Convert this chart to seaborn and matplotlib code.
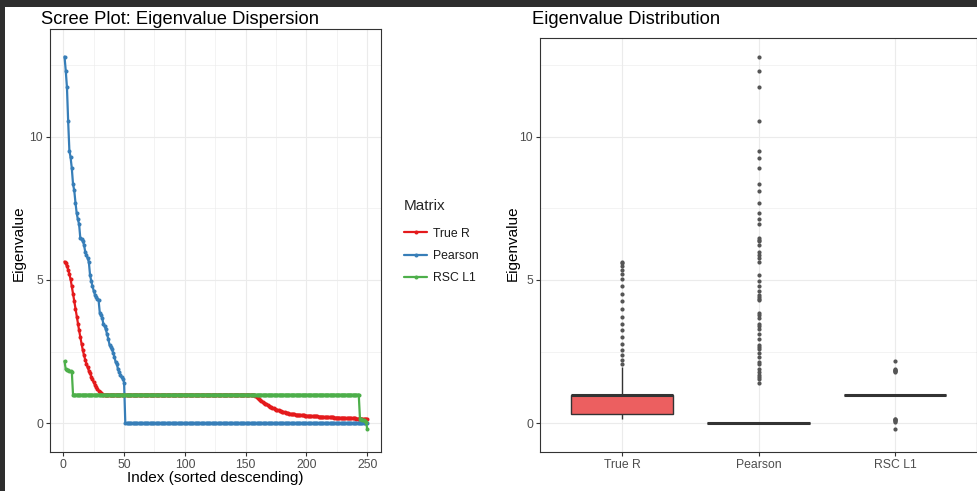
import numpy as np
import pandas as pd
import matplotlib
matplotlib.use("Agg")
import matplotlib.pyplot as plt
from matplotlib.lines import Line2D
from matplotlib.patches import Rectangle
from matplotlib.ticker import FixedLocator
import seaborn as sns

# ---------------- data ----------------
matrices = ["True R", "Pearson", "RSC L1"]

true_r_head = [5.64, 5.58, 5.48, 5.36, 5.20, 5.02, 4.78, 4.52, 4.26, 3.99,
               3.72, 3.48, 3.24, 3.00, 2.78, 2.56, 2.38, 2.22, 2.08, 1.95,
               1.84, 1.74, 1.63, 1.53, 1.43, 1.35, 1.27, 1.20, 1.14, 1.09,
               1.05, 1.02]
true_r_flat = [1.0] * 125
true_r_tail = [0.97, 0.93, 0.90, 0.86, 0.82, 0.79, 0.75, 0.72, 0.69, 0.66,
               0.63, 0.61, 0.58, 0.56, 0.54, 0.52, 0.50,
               0.48, 0.46, 0.45, 0.43, 0.42, 0.40, 0.39, 0.38, 0.37, 0.36,
               0.35, 0.34, 0.33, 0.32, 0.315, 0.31, 0.305, 0.30, 0.295, 0.29,
               0.285, 0.28, 0.28, 0.275, 0.27, 0.27,
               0.265, 0.26, 0.26, 0.255, 0.25, 0.25, 0.245, 0.24, 0.24, 0.235,
               0.23, 0.23, 0.225, 0.225, 0.22, 0.22, 0.215, 0.215, 0.21, 0.21,
               0.205, 0.205, 0.20, 0.20, 0.20, 0.195, 0.195, 0.19, 0.19, 0.19,
               0.185, 0.185, 0.18, 0.18, 0.18, 0.175, 0.175, 0.17, 0.17, 0.17,
               0.165, 0.165, 0.16, 0.16, 0.16, 0.155, 0.155, 0.15, 0.15, 0.14]

pearson_nonzero = [12.79, 12.30, 11.72, 10.53, 9.51, 9.27, 8.89, 8.34, 8.12, 7.70,
                   7.33, 7.11, 6.94, 6.45, 6.41, 6.36, 6.23, 5.99, 5.88, 5.75,
                   5.63, 5.17, 4.96, 4.78, 4.62, 4.49, 4.40, 4.34, 4.30, 3.86,
                   3.77, 3.68, 3.45, 3.38, 3.28, 3.10, 2.95, 2.74, 2.67, 2.58,
                   2.45, 2.33, 2.14, 2.08, 1.88, 1.79, 1.68, 1.60, 1.56, 1.42]
pearson_zero = [0.0] * 200

rsc_head = [2.17, 1.88, 1.86, 1.85, 1.83, 1.81, 1.80]
rsc_flat = [1.0] * 236
rsc_tail = [0.16, 0.14, 0.12, 0.10, 0.08, 0.05, -0.21]

true_r = true_r_head + true_r_flat + true_r_tail
pearson = pearson_nonzero + pearson_zero
rsc_l1 = rsc_head + rsc_flat + rsc_tail
index = list(range(1, len(true_r) + 1))

x_ticks = [0, 50, 100, 150, 200, 250]
x_minor = [25, 75, 125, 175, 225]
y_ticks = [0, 5, 10]
y_minor = [2.5, 7.5, 12.5]

colors = ["#E41A1C", "#377EB8", "#4DAF4A"]
box_fill = ["#EC5F60", "#73A5CD", "#82C780"]

df = pd.DataFrame({
    "Index": index * 3,
    "Eigenvalue": true_r + pearson + rsc_l1,
    "Matrix": [matrices[0]] * len(true_r) + [matrices[1]] * len(pearson) + [matrices[2]] * len(rsc_l1),
})

# ---------------- figure ----------------
sns.set_theme(style="white")
plt.rcParams["font.family"] = ["Liberation Sans", "DejaVu Sans"]

W, H = 978, 491
fig = plt.figure(figsize=(W / 100, H / 100), dpi=100)
fig.patch.set_facecolor("white")

def fx(px):
    return px / W

def fy(py):
    return 1 - py / H

ax1 = fig.add_axes([fx(50), fy(452), (381 - 50) / W, (452 - 29) / H])
ax2 = fig.add_axes([fx(540), fy(452), (977 - 540) / W, (452 - 38) / H])

pal = dict(zip(matrices, colors))
sns.lineplot(data=df, x="Index", y="Eigenvalue", hue="Matrix", hue_order=matrices,
             palette=pal, marker="o", markersize=2.9, markeredgewidth=0,
             linewidth=1.6, estimator=None, sort=False, legend=False, ax=ax1)

sns.boxplot(data=df, x="Matrix", y="Eigenvalue", hue="Matrix", order=matrices,
            hue_order=matrices, palette=dict(zip(matrices, box_fill)), saturation=1,
            width=0.75, linewidth=1.0, linecolor="#333333", showcaps=False,
            legend=False,
            flierprops=dict(marker="o", markersize=3.0, markerfacecolor="#555555",
                            markeredgecolor="none"),
            medianprops=dict(linewidth=2.2, color="#333333"),
            ax=ax2)

ax1.set_xlim(-10.94, 261.3)
ax1.set_ylim(-1.0, 13.75)
ax2.set_xlim(-0.6, 2.6)
ax2.set_ylim(-1.0, 13.44)

ax1.xaxis.set_major_locator(FixedLocator(x_ticks))
ax1.xaxis.set_minor_locator(FixedLocator(x_minor))
ax1.set_xticklabels([str(t) for t in x_ticks])
for ax in (ax1, ax2):
    ax.yaxis.set_major_locator(FixedLocator(y_ticks))
    ax.yaxis.set_minor_locator(FixedLocator(y_minor))
    ax.set_yticklabels([str(t) for t in y_ticks])
    ax.set_facecolor("white")
    for s in ax.spines.values():
        s.set_visible(True)
        s.set_color("#333333")
        s.set_linewidth(0.8)
    ax.tick_params(axis="both", which="major", length=2.75, width=0.8,
                   color="#333333", labelcolor="#4d4d4d", labelsize=8.8, pad=2.2,
                   bottom=True, left=True)
    ax.tick_params(axis="both", which="minor", length=0)
    ax.grid(which="major", color="#ebebeb", linewidth=0.8)
    ax.grid(which="minor", color="#ebebeb", linewidth=0.4)
    ax.set_axisbelow(True)
    ax.set_xlabel("")
    ax.set_ylabel("")

# ---------------- texts ----------------
fig.text(fx(41), fy(20), "Scree Plot: Eigenvalue Dispersion", fontsize=13.2,
         color="black", ha="left", va="center")
fig.text(fx(532), fy(20), "Eigenvalue Distribution", fontsize=13.2,
         color="black", ha="left", va="center")
fig.text(fx(19), fy(243), "Eigenvalue", fontsize=11, rotation=90,
         ha="center", va="center", color="black")
fig.text(fx(512.5), fy(243), "Eigenvalue", fontsize=11, rotation=90,
         ha="center", va="center", color="black")
fig.text(fx(215), fy(478), "Index (sorted descending)", fontsize=11,
         ha="center", va="center", color="black")

# ---------------- legend ----------------
handles = [Line2D([], [], color=c, lw=1.6, marker="o", markersize=2.9,
                  markeredgewidth=0) for c in colors]
leg = ax1.legend(handles, matrices, title="Matrix", loc="upper left",
                 bbox_to_anchor=(fx(404), fy(199)), bbox_transform=fig.transFigure,
                 frameon=False, borderpad=0, borderaxespad=0, handlelength=1.9,
                 handletextpad=0.45, labelspacing=0.85, numpoints=1,
                 fontsize=8.8, title_fontsize=11, alignment="left")
leg._legend_box.sep = 0.85 * 8.8 + 3.0
for t in leg.get_texts():
    t.set_color("#1a1a1a")

# ---------------- screenshot frame ----------------
fig.patches.append(Rectangle((0, fy(7)), 1, 7 / H, transform=fig.transFigure,
                             facecolor="#2e2e2e", edgecolor="none", zorder=10))
fig.patches.append(Rectangle((0, 0), 5 / W, 1, transform=fig.transFigure,
                             facecolor="#2e2e2e", edgecolor="none", zorder=10))

fig.savefig("out.png", dpi=100)
